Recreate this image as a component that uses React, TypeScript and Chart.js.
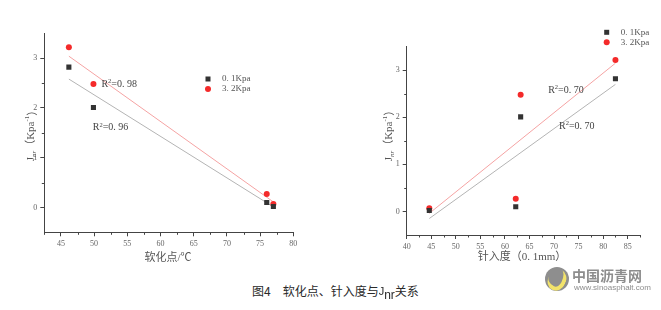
import React, { useEffect, useRef } from 'react';
import { Chart, registerables } from 'chart.js';

Chart.register(...registerables);

// ---- data (four asphalt samples) ----
const softeningPoint = [46.2, 49.9, 76.0, 77.0];
const penetration = [82.5, 63.2, 62.2, 44.6];
const jnr01 = [2.82, 2.01, 0.1, 0.02];
const jnr32 = [3.22, 2.48, 0.27, 0.07];
const seriesLabels = ['0. 1Kpa', '3. 2Kpa'];

// linear fit end points
const softFitX = [46.2, 77.0];
const softFit01 = [2.58, 0.01];
const softFit32 = [3.04, 0.11];
const penFitX = [44.6, 82.5];
const penFit01 = [-0.15, 2.7];
const penFit32 = [-0.04, 3.15];

const softR2 = ['0. 96', '0. 98'];
const penR2 = ['0. 70', '0. 70'];

// ticks
const yTicks = [0, 1, 2, 3];
const yMinor = [0.5, 1.5, 2.5];
const softTicks = [45, 50, 55, 60, 65, 70, 75, 80];
const softMinor = [42.5, 47.5, 52.5, 57.5, 62.5, 67.5, 72.5, 77.5];
const penTicks = [40, 45, 50, 55, 60, 65, 70, 75, 80, 85];
const penMinor = [42.5, 47.5, 52.5, 57.5, 62.5, 67.5, 72.5, 77.5, 82.5, 87.5];

const xTitles = ['软化点/℃', '针入度（0. 1mm）'];
const caption = ['图4　软化点、针入度与', 'J', 'nr', '关系'];

type Spec = {
  xs: number[];
  xMin: number;
  xMax: number;
  xTicks: number[];
  xMinor: number[];
  fitX: number[];
  fit01: number[];
  fit32: number[];
  padL: number;
  padR: number;
  padT: number;
  yAxisW: number;
  xAxisH: number;
  xTitle: string;
  xTitlePos: [number, number];
  yTitlePos: [number, number];
  legendPos: [number, number];
  r2: { v: string; x: number; y: number }[];
};

const AXIS = '#444';
const TICK_TXT = '#666';
const TITLE_TXT = '#555';
const BLACK = '#333333';
const RED = '#f42a2a';

function drawParts(
  ctx: CanvasRenderingContext2D,
  parts: { t: string; font: string; dy: number }[],
  x: number,
  y: number,
  align: 'left' | 'center'
) {
  let total = 0;
  parts.forEach((p) => {
    ctx.font = p.font;
    total += ctx.measureText(p.t).width;
  });
  let cx = align === 'center' ? x - total / 2 : x;
  ctx.textAlign = 'left';
  ctx.textBaseline = 'middle';
  parts.forEach((p) => {
    ctx.font = p.font;
    ctx.fillText(p.t, cx, y + p.dy);
    cx += ctx.measureText(p.t).width;
  });
}

function makeDecor(spec: Spec) {
  return {
    id: 'decor',
    afterDraw(chart: any) {
      const ctx: CanvasRenderingContext2D = chart.ctx;
      const xs = chart.scales.x;
      const ys = chart.scales.y;
      const ca = chart.chartArea;
      ctx.save();
      // minor ticks
      ctx.strokeStyle = AXIS;
      ctx.lineWidth = 1;
      ctx.beginPath();
      spec.xMinor.forEach((v) => {
        const px = Math.round(xs.getPixelForValue(v)) + 0.5;
        ctx.moveTo(px, ca.bottom);
        ctx.lineTo(px, ca.bottom + 2.5);
      });
      yMinor.forEach((v) => {
        const py = Math.round(ys.getPixelForValue(v)) + 0.5;
        ctx.moveTo(ca.left, py);
        ctx.lineTo(ca.left - 2.5, py);
      });
      ctx.stroke();

      // R² labels
      ctx.fillStyle = '#444';
      spec.r2.forEach((r) => {
        drawParts(
          ctx,
          [
            { t: 'R', font: '10px "Liberation Serif"', dy: 0 },
            { t: '2', font: '6.5px "Liberation Serif"', dy: -3 },
            { t: '=' + r.v, font: '10px "Liberation Serif"', dy: 0 },
          ],
          xs.getPixelForValue(r.x),
          ys.getPixelForValue(r.y),
          'left'
        );
      });

      // legend
      const [lx, ly] = spec.legendPos;
      ctx.fillStyle = BLACK;
      ctx.fillRect(lx - 2.5, ly - 2.5, 5, 5);
      ctx.fillStyle = RED;
      ctx.beginPath();
      ctx.arc(lx, ly + 10, 3, 0, Math.PI * 2);
      ctx.fill();
      ctx.fillStyle = '#555';
      ctx.font = '9px "Liberation Serif"';
      ctx.textAlign = 'left';
      ctx.textBaseline = 'middle';
      ctx.fillText(seriesLabels[0], lx + 14, ly);
      ctx.fillText(seriesLabels[1], lx + 14, ly + 10);

      // x title
      ctx.fillStyle = TITLE_TXT;
      ctx.font = '11px "Liberation Serif", "Noto Sans CJK SC"';
      ctx.textAlign = 'center';
      ctx.textBaseline = 'middle';
      ctx.fillText(spec.xTitle, spec.xTitlePos[0], spec.xTitlePos[1]);

      // y title
      ctx.translate(spec.yTitlePos[0], spec.yTitlePos[1]);
      ctx.rotate(-Math.PI / 2);
      drawParts(
        ctx,
        [
          { t: 'J', font: '11px "Liberation Serif"', dy: 0 },
          { t: 'nr', font: 'italic 7px "Liberation Serif"', dy: 3 },
          { t: '（Kpa', font: '11px "Liberation Serif", "Noto Sans CJK SC"', dy: 0 },
          { t: '-1', font: '7px "Liberation Serif"', dy: -4 },
          { t: '）', font: '11px "Noto Sans CJK SC"', dy: 0 },
        ],
        0,
        0,
        'center'
      );
      ctx.restore();
    },
  };
}

function ChartPanel({ spec, left, width }: { spec: Spec; left: number; width: number }) {
  const ref = useRef<HTMLCanvasElement | null>(null);
  useEffect(() => {
    if (!ref.current) return;
    const grid = {
      display: true,
      drawOnChartArea: false,
      drawTicks: true,
      tickLength: 4,
      tickColor: AXIS,
      color: AXIS,
    };
    const border = { display: true, color: AXIS, width: 1 };
    const tickFont = { family: '"Liberation Serif"', size: 8 };
    const chart = new Chart(ref.current, {
      type: 'scatter',
      data: {
        datasets: [
          {
            label: seriesLabels[0],
            data: spec.xs.map((x, i) => ({ x, y: jnr01[i] })),
            pointStyle: 'rect',
            pointRadius: 3.6,
            backgroundColor: BLACK,
            borderColor: BLACK,
            borderWidth: 0,
            order: 0,
          },
          {
            label: seriesLabels[1],
            data: spec.xs.map((x, i) => ({ x, y: jnr32[i] })),
            pointStyle: 'circle',
            pointRadius: 3,
            backgroundColor: RED,
            borderColor: RED,
            borderWidth: 0,
            order: 0,
          },
          {
            label: 'fit01',
            data: spec.fitX.map((x, i) => ({ x, y: spec.fit01[i] })),
            showLine: true,
            borderColor: '#b4b4b4',
            borderWidth: 1,
            pointRadius: 0,
            order: 1,
          },
          {
            label: 'fit32',
            data: spec.fitX.map((x, i) => ({ x, y: spec.fit32[i] })),
            showLine: true,
            borderColor: '#f5a3a3',
            borderWidth: 1,
            pointRadius: 0,
            order: 1,
          },
        ],
      } as any,
      options: {
        responsive: false,
        maintainAspectRatio: false,
        animation: false,
        devicePixelRatio: 1,
        events: [],
        layout: { padding: { left: spec.padL, right: spec.padR, top: spec.padT, bottom: 0 } },
        plugins: { legend: { display: false }, tooltip: { enabled: false } },
        scales: {
          x: {
            type: 'linear',
            min: spec.xMin,
            max: spec.xMax,
            afterBuildTicks: (s: any) => {
              s.ticks = spec.xTicks.map((v) => ({ value: v }));
            },
            afterFit: (s: any) => {
              s.height = spec.xAxisH;
            },
            grid,
            border,
            ticks: { autoSkip: false, maxRotation: 0, padding: 3, color: TICK_TXT, font: tickFont },
          },
          y: {
            type: 'linear',
            min: -0.5,
            max: 3.5,
            afterBuildTicks: (s: any) => {
              s.ticks = yTicks.map((v) => ({ value: v }));
            },
            afterFit: (s: any) => {
              s.width = spec.yAxisW;
            },
            grid,
            border,
            ticks: { autoSkip: false, padding: 3, color: TICK_TXT, font: tickFont },
          },
        },
      } as any,
      plugins: [makeDecor(spec)],
    });
    return () => chart.destroy();
  }, [spec]);
  return (
    <canvas
      ref={ref}
      width={width}
      height={270}
      style={{ position: 'absolute', left, top: 0, width, height: 270 }}
    />
  );
}

const leftSpec: Spec = {
  xs: softeningPoint,
  xMin: 42.5,
  xMax: 80,
  xTicks: softTicks,
  xMinor: softMinor,
  fitX: softFitX,
  fit01: softFit01,
  fit32: softFit32,
  padL: 0,
  padR: 36.7,
  padT: 33.3,
  yAxisW: 44.3,
  xAxisH: 37.7,
  xTitle: xTitles[0],
  xTitlePos: [168, 258],
  yTitlePos: [31.5, 133],
  legendPos: [208, 79],
  r2: [
    { v: softR2[0], x: 49.8, y: 1.6 },
    { v: softR2[1], x: 51.1, y: 2.48 },
  ],
};

const rightSpec: Spec = {
  xs: penetration,
  xMin: 40,
  xMax: 87.5,
  xTicks: penTicks,
  xMinor: penMinor,
  fitX: penFitX,
  fit01: penFit01,
  fit32: penFit32,
  padL: 0,
  padR: 21,
  padT: 46.7,
  yAxisW: 76.7,
  xAxisH: 35,
  xTitle: xTitles[1],
  xTitlePos: [192, 257.5],
  yTitlePos: [59, 133],
  legendPos: [276.7, 32.3],
  r2: [
    { v: penR2[0], x: 71.0, y: 1.8 },
    { v: penR2[1], x: 68.8, y: 2.57 },
  ],
};

export default function App() {
  return (
    <div
      style={{
        position: 'absolute',
        left: 0,
        top: 0,
        width: 661,
        height: 310,
        background: '#ffffff',
        overflow: 'hidden',
      }}
    >
      <ChartPanel spec={leftSpec} left={0} width={330} />
      <ChartPanel spec={rightSpec} left={330} width={331} />
      <div
        style={{
          position: 'absolute',
          left: 252,
          top: 284,
          fontFamily: '"Noto Sans CJK SC", sans-serif',
          fontSize: 12,
          lineHeight: '14px',
          color: '#2a2a2a',
          whiteSpace: 'pre',
        }}
      >
        {caption[0]}
        <span style={{ fontFamily: 'Liberation Sans', fontSize: 11, position: 'relative', top: -1 }}>{caption[1]}</span>
        <span style={{ fontFamily: 'Liberation Sans', fontSize: 12, position: 'relative', top: 3 }}>{caption[2]}</span>
        {caption[3]}
      </div>
      <div
        style={{
          position: 'absolute',
          left: 545,
          top: 267,
          width: 24,
          height: 24,
          borderRadius: '50%',
          background: '#8e8e8e',
          overflow: 'hidden',
        }}
      >
        <div
          style={{
            position: 'absolute',
            left: 3,
            top: 2,
            width: 14,
            height: 18,
            borderRadius: '50%',
            borderRight: '4px solid #f2e36b',
            borderBottom: '4px solid #f2e36b',
            transform: 'rotate(25deg)',
          }}
        />
      </div>
      <div
        style={{
          position: 'absolute',
          left: 572,
          top: 266,
          fontFamily: '"Noto Sans CJK SC", sans-serif',
          fontWeight: 'bold',
          fontSize: 14,
          lineHeight: '18px',
          color: '#8d8d8d',
          whiteSpace: 'pre',
        }}
      >
        中国沥青网
      </div>
      <div
        style={{
          position: 'absolute',
          left: 574,
          top: 283,
          fontFamily: '"Liberation Sans", sans-serif',
          fontSize: 8,
          lineHeight: '10px',
          color: '#8d8d8d',
          whiteSpace: 'pre',
        }}
      >
        www.sinoasphalt.com
      </div>
    </div>
  );
}
